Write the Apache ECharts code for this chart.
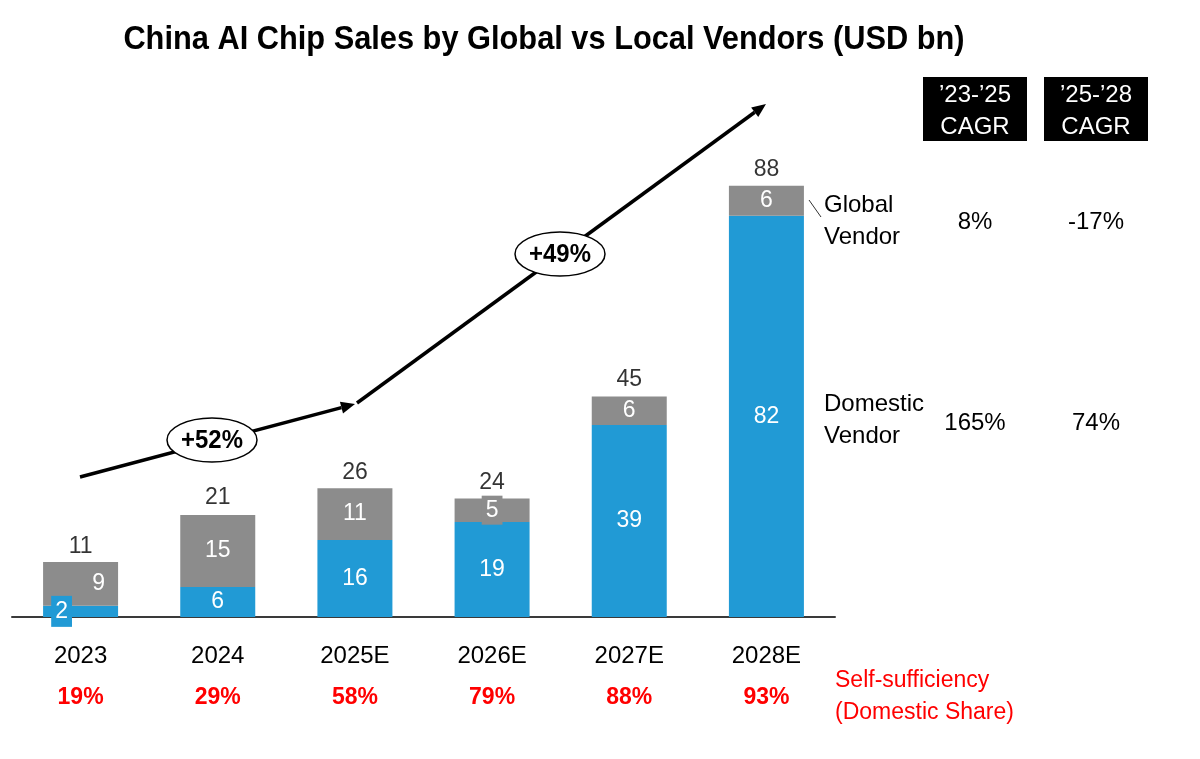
<!DOCTYPE html>
<html>
<head>
    <meta charset="utf-8" />
    <title>China AI Chip Sales</title>
    <script src="https://cdn.jsdelivr.net/npm/echarts@6/dist/echarts.min.js"></script>
    <style>
        body { margin: 0; background: #fff; }
        #main { width: 1200px; height: 759px; }
    </style>
</head>
<body>
<div id="main"></div>
<script type="text/javascript">
    // values (USD bn)
    var years = ['2023', '2024', '2025E', '2026E', '2027E', '2028E'];
    var domestic = [2.3, 6.1, 15.7, 19.4, 39.2, 81.9];
    var globalVendor = [8.9, 14.7, 10.6, 4.8, 5.8, 6.1];
    var totals = [11, 21, 26, 24, 45, 88];
    var selfShare = ['19%', '29%', '58%', '79%', '88%', '93%'];
    var cagrHeads = ['’23-’25\nCAGR', '’25-’28\nCAGR'];
    var cagrGlobal = ['8%', '-17%'];
    var cagrDomestic = ['165%', '74%'];
    var growth = ['+52%', '+49%'];

    var BLUE = '#219ad5';
    var GRAY = '#8c8c8c';
    var FONT = '"Liberation Sans", Arial, sans-serif';

    var domData = domestic.map(function (v, i) {
        var item = { value: v };
        if (i === 0) {
            item.label = { offset: [-19, 0], backgroundColor: BLUE, padding: [4, 4] };
        }
        return item;
    });
    var globData = globalVendor.map(function (v, i) {
        var item = { value: v };
        if (i === 0) item.label = { offset: [18, 0] };
        if (i === 3) item.label = { backgroundColor: GRAY, padding: [3, 4] };
        return item;
    });

    function txt(x, y, s, size, color, opt) {
        opt = opt || {};
        return {
            type: 'text', x: x, y: y, z: 120,
            scaleX: opt.scaleX || 1,
            style: {
                text: s,
                fill: color,
                font: (opt.bold ? 'bold ' : '') + size + 'px ' + FONT,
                lineHeight: opt.lh || size,
                align: opt.align || 'center', textAlign: opt.align || 'center',
                verticalAlign: 'middle', textVerticalAlign: 'middle'
            }
        };
    }

    // arrow = line + filled head
    function arrow(x1, y1, x2, y2) {
        var dx = x2 - x1, dy = y2 - y1, len = Math.sqrt(dx * dx + dy * dy);
        var ux = dx / len, uy = dy / len, hl = 14, hw = 6;
        var bx = x2 - ux * hl, by = y2 - uy * hl;
        return [
            { type: 'line', z: 100, shape: { x1: x1, y1: y1, x2: bx, y2: by },
              style: { stroke: '#000', lineWidth: 3.5 } },
            { type: 'polygon', z: 100,
              shape: { points: [[x2, y2], [bx - uy * hw, by + ux * hw], [bx + uy * hw, by - ux * hw]] },
              style: { fill: '#000' } }
        ];
    }

    function bubble(cx, cy, s) {
        return [
            { type: 'ellipse', z: 110, shape: { cx: cx, cy: cy, rx: 45, ry: 22 },
              style: { fill: '#fff', stroke: '#000', lineWidth: 1.5 } },
            txt(cx, cy + 1, s, 26, '#000', { bold: true, scaleX: 0.92 })
        ];
    }

    var graphics = [];
    graphics.push(txt(544, 40, 'China AI Chip Sales by Global vs Local Vendors (USD bn)', 34, '#000', { bold: true, scaleX: 0.905 }));
    graphics = graphics.concat(arrow(80, 477, 355, 404), arrow(357, 403, 766, 104));
    graphics = graphics.concat(bubble(212, 440, growth[0]), bubble(560, 254, growth[1]));

    // CAGR table
    var colX = [975, 1096];
    colX.forEach(function (cx, i) {
        graphics.push({ type: 'rect', z: 100, shape: { x: cx - 52, y: 77, width: 104, height: 64 }, style: { fill: '#000' } });
        graphics.push(txt(cx, 111, cagrHeads[i], 24, '#fff', { lh: 32 }));
        graphics.push(txt(cx, 222, cagrGlobal[i], 24, '#000'));
        graphics.push(txt(cx, 423, cagrDomestic[i], 24, '#000'));
    });
    graphics.push(txt(824, 221, 'Global\nVendor', 24, '#000', { align: 'left', lh: 32 }));
    graphics.push(txt(824, 420, 'Domestic\nVendor', 24, '#000', { align: 'left', lh: 32 }));
    graphics.push({ type: 'line', z: 100, shape: { x1: 809, y1: 200, x2: 821, y2: 217 }, style: { stroke: '#333', lineWidth: 1 } });
    graphics.push(txt(835, 697, 'Self-sufficiency\n(Domestic Share)', 23, '#ff0000', { align: 'left', lh: 32 }));

    var option = {
        animation: false,
        backgroundColor: '#fff',
        textStyle: { fontFamily: FONT },
        grid: { left: 12, right: 365, top: 127, bottom: 142 },
        xAxis: {
            type: 'category',
            data: years,
            axisLine: { lineStyle: { color: '#3a3a3a', width: 2 } },
            axisTick: { show: false },
            axisLabel: {
                margin: 18,
                formatter: function (v, i) {
                    return '{y|' + v + '}\n{p|' + selfShare[i] + '}';
                },
                rich: {
                    y: { fontSize: 24, color: '#000', lineHeight: 42, fontFamily: FONT },
                    p: { fontSize: 23, color: '#ff0000', fontWeight: 'bold', lineHeight: 42, fontFamily: FONT }
                }
            }
        },
        yAxis: { type: 'value', min: 0, max: 100, show: false, splitLine: { show: false } },
        series: [
            {
                name: 'Domestic Vendor', type: 'bar', stack: 'all', barWidth: 75,
                itemStyle: { color: BLUE },
                label: { show: true, position: 'inside', color: '#fff', fontSize: 23,
                         formatter: function (p) { return Math.round(p.value); } },
                data: domData
            },
            {
                name: 'Global Vendor', type: 'bar', stack: 'all', barWidth: 75,
                itemStyle: { color: GRAY },
                label: { show: true, position: 'inside', color: '#fff', fontSize: 23,
                         formatter: function (p) { return Math.round(p.value); } },
                data: globData
            },
            {
                name: 'Total', type: 'scatter', symbolSize: 0, z: 5,
                label: { show: true, position: 'top', distance: 5, color: '#000', fontSize: 23 },
                data: totals
            }
        ],
        graphic: graphics
    };

    var myChart = echarts.init(document.getElementById('main'));
    myChart.setOption(option);
</script>
</body>
</html>
